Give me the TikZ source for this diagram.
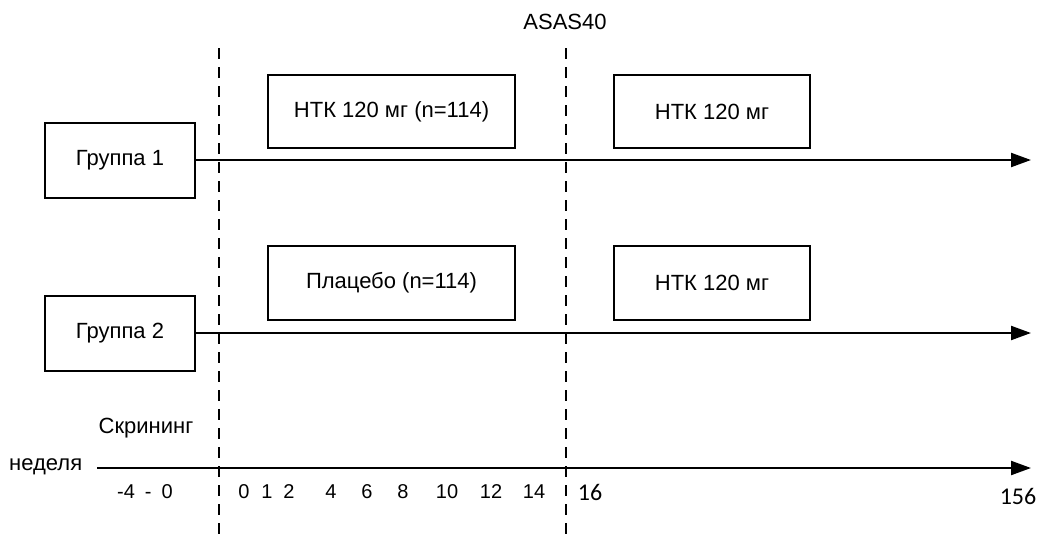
\documentclass[tikz,border=0pt]{standalone}
\usepackage{fontspec}
\setmainfont{Liberation Sans}
\newfontfamily\numfont{Carlito}
\usetikzlibrary{arrows.meta}
\begin{document}
\begin{tikzpicture}[x=1pt,y=-1pt,
  box/.style={draw,line width=2pt,inner sep=0pt,font=\fontsize{22}{26}\selectfont},
  lbl/.style={inner sep=0pt,font=\fontsize{22}{26}\selectfont},
  tick/.style={inner sep=0pt,font=\fontsize{20}{24}\selectfont},
  num/.style={inner sep=0pt,font=\numfont\fontsize{24}{28}\selectfont},
  axis/.style={line width=2.2pt,-{Triangle[length=20pt,width=14pt]}},
  vline/.style={line width=2pt,dash pattern=on 11pt off 8pt}]
\useasboundingbox (0,0) rectangle (1038,539);
% boxes
\node[box,minimum width=150pt,minimum height=75pt] (g1) at (120,160) {Группа 1};
\node[box,minimum width=150pt,minimum height=75pt] (g2) at (120,333) {Группа 2};
\node[box,minimum width=247pt,minimum height=73pt] (a1) at (391.5,111.5) {НТК 120 мг (n=114)};
\node[box,minimum width=196pt,minimum height=73pt] (b1) at (712,111.5) {НТК 120 мг};
\node[box,minimum width=247pt,minimum height=74pt] (a2) at (391.5,283) {Плацебо (n=114)};
\node[box,minimum width=196pt,minimum height=74pt] (b2) at (712,283) {НТК 120 мг};
% end coordinates
\coordinate (e1) at (1031,160);
\coordinate (e2) at (1031,333);
\coordinate (s3) at (97,468);
\coordinate (e3) at (1031,468);
\coordinate (d1t) at (219,48);
\coordinate (d1b) at (219,539);
\coordinate (d2t) at (566,48);
\coordinate (d2b) at (566,539);
% arrows
\draw[axis] (g1.east) -- (e1);
\draw[axis] (g2.east) -- (e2);
\draw[axis] (s3) -- (e3);
\draw[vline] (d1t) -- (d1b);
\draw[vline] (d2t) -- (d2b);
% labels
\node[lbl] (asas) at (565,22) {ASAS40};
\node[lbl] (scr) at (146,428) {Скрининг};
\node[lbl,anchor=west] (wk) at (9,467) {неделя};
\node[tick] (m4) at (145,492) {-4\hspace{10pt}-\hspace{10pt}0};
\node[tick] (n0) at (244,492) {0};
\node[tick] (n1) at (267,492) {1};
\node[tick] (n2) at (289,492) {2};
\node[tick] (n4) at (331,492) {4};
\node[tick] (n6) at (367,492) {6};
\node[tick] (n8) at (403,492) {8};
\node[tick] (n10) at (447,492) {10};
\node[tick] (n12) at (491,492) {12};
\node[tick] (n14) at (534,492) {14};
\node[num] (n16) at (590,492) {16};
\node[num] (n156) at (1018,496) {156};
\end{tikzpicture}
\end{document}
